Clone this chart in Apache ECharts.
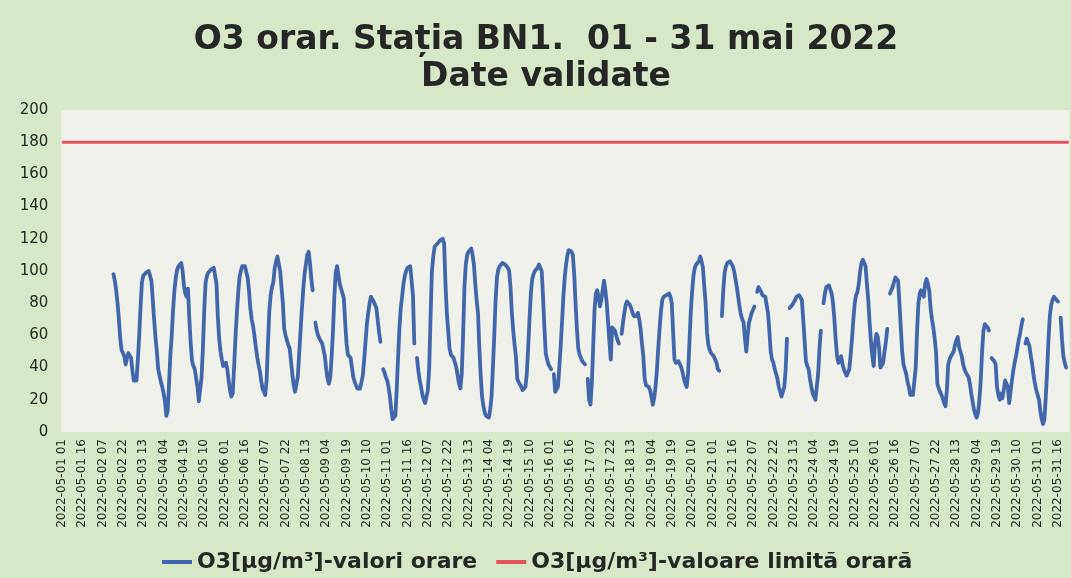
<!DOCTYPE html>
<html>
<head>
<meta charset="utf-8">
<script src="https://cdn.jsdelivr.net/npm/echarts@6/dist/echarts.min.js"></script>
<style>
  html, body { margin: 0; padding: 0; background: #d6e8c7; }
  #chart { width: 1071px; height: 578px; }
</style>
</head>
<body>
<div id="chart"></div>
<script>
// Hourly O3 values (µg/m³), one array per day: hours 01..23 of that day and 00 of the next day.
const day01 = [null,null,null,null,null,null,null,null,null,null,null,null,null,null,null,null,null,null,null,null,null,null,null,null];
const day02 = [null,null,null,null,null,null,null,null,null,null,null,null,null,null,98,94,88,80,70,58,51,49,47,42];
const day03 = [46,49,49,46,38,32,31,32,45,60,78,93,97,98,99,99,100,99,94,82,70,59,50,39];
const day04 = [35,31,28,24,19,10,13,30,48,60,76,88,96,101,103,104,105,100,91,86,84,89,70,55];
const day05 = [44,41,39,38,28,19,18,34,52,76,93,97,99,100,101,102,102,103,92,72,58,50,45,41];
const day06 = [41,43,39,32,26,22,24,40,58,73,86,96,100,103,104,103,103,96,88,77,70,66,60,53];
const day07 = [47,42,38,32,27,25,23,32,55,75,85,90,93,102,106,109,108,100,99,80,64,60,57,54];
const day08 = [52,44,36,29,25,26,34,48,62,76,88,98,104,110,112,105,95,88,null,68,63,60,58,57];
const day09 = [55,51,47,39,33,30,34,47,63,84,99,103,104,92,89,88,83,68,55,48,47,46,40,34];
const day10 = [31,29,27,26,27,28,35,45,56,67,74,80,84,83,81,79,77,76,62,56,null,39,37,34];
const day11 = [32,28,22,14,8,8,10,26,46,64,77,84,92,97,100,102,103,103,102,85,55,null,46,38];
const day12 = [32,28,23,20,18,18,26,40,72,100,109,115,116,117,118,119,120,120,117,92,74,63,52,48];
const day13 = [47,46,45,40,35,30,27,36,60,90,104,110,112,113,114,110,104,92,82,74,52,35,22,16];
const day14 = [12,10,9,9,14,22,40,60,82,96,101,103,104,105,105,104,103,102,100,90,74,63,54,47];
const day15 = [33,31,30,28,26,27,28,36,52,70,86,95,98,100,101,102,104,105,100,84,65,49,45,42];
const day16 = [41,39,null,36,25,26,28,40,53,68,84,96,104,110,113,113,112,110,98,80,64,52,48,46];
const day17 = [44,43,42,null,33,20,17,30,53,76,86,88,84,78,82,88,94,88,80,68,56,45,65,64];
const day18 = [63,60,57,55,null,61,68,74,79,81,80,79,77,74,72,71,72,74,70,64,55,47,33,29];
const day19 = [28,28,26,22,17,21,28,38,52,64,75,82,84,84,85,86,86,84,80,62,45,43,43,44];
const day20 = [43,40,37,33,30,28,36,55,74,87,97,102,104,104,106,109,106,102,90,80,62,54,51,49];
const day21 = [48,47,47,43,39,38,null,72,88,99,103,105,106,106,106,103,100,95,90,84,78,73,70,68];
const day22 = [58,50,60,68,71,74,76,78,null,87,90,90,87,85,84,84,84,74,63,50,45,43,39,36];
const day23 = [33,28,25,22,21,28,38,58,null,77,78,79,80,82,84,85,85,84,82,70,57,44,41,39];
const day24 = [33,28,24,22,20,28,36,52,63,null,80,86,90,91,91,91,86,80,70,57,47,43,45,47];
const day25 = [42,39,37,35,35,39,48,58,70,80,85,87,92,100,105,107,108,103,92,82,68,56,47,41];
const day26 = [55,61,59,52,40,39,43,50,56,64,null,86,88,90,93,96,96,94,80,65,50,42,39,36];
const day27 = [31,28,23,22,23,24,40,62,80,86,88,86,84,92,95,92,88,77,70,65,58,50,30,27];
const day28 = [26,23,21,18,16,26,42,45,47,48,50,54,57,59,53,50,47,42,39,37,36,34,30,24];
const day29 = [19,14,11,9,12,20,32,50,63,67,66,65,63,null,46,45,44,42,28,23,20,24,21,26];
const day30 = [32,30,28,18,25,32,38,43,47,52,57,61,66,70,null,55,58,57,53,47,42,35,30,26];
const day31 = [23,20,13,8,5,8,22,38,58,72,79,82,84,84,82,81,null,71,57,47,43,40,null,null];

const LIMIT_VALUE = 180;           // valoare limită orară
const Y_MIN = 0, Y_MAX = 200, Y_STEP = 20;
const LABEL_EVERY = 15;            // one tick label every 15 hours

const hourly = [].concat(day01, day02, day03, day04, day05, day06, day07, day08, day09, day10,
  day11, day12, day13, day14, day15, day16, day17, day18, day19, day20,
  day21, day22, day23, day24, day25, day26, day27, day28, day29, day30, day31);

// Category labels "YYYY-MM-DD HH", starting 2022-05-01 01
const pad = n => String(n).padStart(2, '0');
const categories = hourly.map((_, i) => {
  const d = new Date(Date.UTC(2022, 4, 1, 1 + i));
  return d.getUTCFullYear() + '-' + pad(d.getUTCMonth() + 1) + '-' + pad(d.getUTCDate()) + ' ' + pad(d.getUTCHours());
});
const limitLine = categories.map(() => LIMIT_VALUE);

const TEXT = '#262626';
const chart = echarts.init(document.getElementById('chart'));
chart.setOption({
  animation: false,
  backgroundColor: '#d6e8c7',
  title: {
    text: 'O3 orar. Stația BN1.  01 - 31 mai 2022\nDate validate',
    left: 546,
    top: 22,
    textAlign: 'center',
    padding: 0,
    textStyle: { fontFamily: 'DejaVu Sans', fontWeight: 'bold', fontSize: 33, lineHeight: 37, color: TEXT }
  },
  legend: {
    left: 157,
    top: 546,
    icon: 'rect',
    itemWidth: 30,
    itemHeight: 4,
    itemGap: 19,
    textStyle: { fontFamily: 'DejaVu Sans', fontWeight: 'bold', fontSize: 22, color: TEXT },
    data: ['O3[µg/m³]-valori orare', 'O3[µg/m³]-valoare limită orară']
  },
  grid: {
    left: 61.3, right: 1.5, top: 110, bottom: 146,
    show: true, backgroundColor: '#f0f1eb', borderWidth: 0
  },
  xAxis: {
    type: 'category',
    data: categories,
    boundaryGap: true,
    axisLine: { show: false },
    axisTick: { show: false },
    axisLabel: {
      interval: LABEL_EVERY - 1,
      rotate: 90,
      margin: 7,
      fontFamily: 'DejaVu Sans',
      fontSize: 12,
      color: TEXT
    }
  },
  yAxis: {
    type: 'value',
    min: Y_MIN, max: Y_MAX, interval: Y_STEP,
    axisLine: { show: false },
    axisTick: { show: false },
    splitLine: { show: false },
    axisLabel: { fontFamily: 'DejaVu Sans', fontSize: 15, color: TEXT, margin: 13 }
  },
  series: [
    {
      name: 'O3[µg/m³]-valori orare',
      type: 'line',
      data: hourly,
      symbol: 'none',
      connectNulls: false,
      itemStyle: { color: '#4266a9' },
      lineStyle: { color: '#4266a9', width: 3.8, join: 'round', cap: 'round' },
      z: 3
    },
    {
      name: 'O3[µg/m³]-valoare limită orară',
      type: 'line',
      data: limitLine,
      symbol: 'none',
      itemStyle: { color: '#e6525f' },
      lineStyle: { color: '#e6525f', width: 3 },
      z: 2
    }
  ]
});
</script>
</body>
</html>
